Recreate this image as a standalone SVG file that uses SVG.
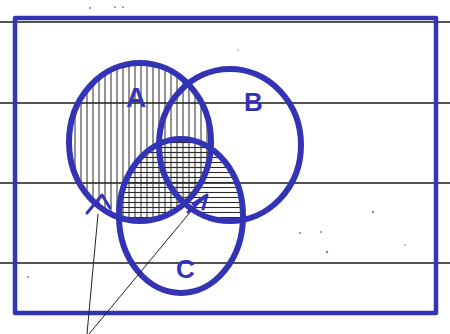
<svg xmlns="http://www.w3.org/2000/svg" width="450" height="334" viewBox="0 0 450 334">
<style>
.rule{stroke:#1a1a1a;stroke-width:1.3}
.ink{fill:none;stroke:#3333b6;stroke-linecap:round;stroke-linejoin:round}
.set{stroke-width:6}
.lbl{font-family:"Liberation Sans",Arial,sans-serif;font-weight:bold;fill:#3333b6}
.ptr{stroke:#222;stroke-width:1;fill:none}
.dot{fill:#888}
</style>
<defs>
<pattern id="vh" patternUnits="userSpaceOnUse" width="6" height="10">
<line x1="3" y1="0" x2="3" y2="10" stroke="#2a2a2a" stroke-width="1"/>
</pattern>
<pattern id="hh" patternUnits="userSpaceOnUse" width="10" height="5">
<line x1="0" y1="2.5" x2="10" y2="2.5" stroke="#2a2a2a" stroke-width="1.1"/>
</pattern>
<clipPath id="cA"><ellipse cx="140" cy="142" rx="71" ry="79"/></clipPath>
<clipPath id="cB"><ellipse cx="230" cy="145" rx="71" ry="76"/></clipPath>
<clipPath id="cC"><ellipse cx="181" cy="216" rx="62" ry="77"/></clipPath>
</defs>
<rect width="450" height="334" fill="#ffffff"/>
<g id="paper">
<line class="rule" x1="0" y1="22" x2="450" y2="22"/>
<line class="rule" x1="0" y1="103" x2="450" y2="103"/>
<line class="rule" x1="0" y1="183" x2="450" y2="183"/>
<line class="rule" x1="0" y1="263" x2="450" y2="263"/>
<circle class="dot" cx="90" cy="8" r="1"/>
<circle class="dot" cx="115" cy="7" r="1"/>
<circle class="dot" cx="123" cy="7" r="1"/>
<circle class="dot" cx="238" cy="50" r="0.8"/>
<circle class="dot" cx="373" cy="212" r="1.2"/>
<circle class="dot" cx="300" cy="233" r="1"/>
<circle class="dot" cx="321" cy="232" r="1"/>
<circle class="dot" cx="327" cy="252" r="1.2"/>
<circle class="dot" cx="28" cy="277" r="1"/>
<circle class="dot" cx="405" cy="245" r="0.8"/>
</g>
<g id="shading">
<ellipse cx="140" cy="142" rx="71" ry="79" fill="url(#vh)"/>
<g clip-path="url(#cC)">
<g clip-path="url(#cA)"><rect x="100" y="130" width="160" height="100" fill="url(#hh)"/></g>
<g clip-path="url(#cB)"><rect x="100" y="130" width="160" height="100" fill="url(#hh)"/></g>
</g>
</g>
<g id="universe">
<rect class="ink" x="15" y="18" width="421" height="295" stroke-width="4.5"/>
</g>
<g id="setA">
<ellipse class="ink set" cx="140" cy="142" rx="71" ry="79"/>
<text class="lbl" x="126" y="107" font-size="28">A</text>
</g>
<g id="setB">
<ellipse class="ink set" cx="230" cy="145" rx="71" ry="76"/>
<text class="lbl" x="244" y="111" font-size="26">B</text>
</g>
<g id="setC">
<ellipse class="ink set" cx="181" cy="216" rx="62" ry="77"/>
<text class="lbl" x="176" y="278" font-size="26">C</text>
</g>
<g id="connectors">
<line class="ptr" x1="87" y1="334" x2="98" y2="214"/>
<line class="ptr" x1="89" y1="334" x2="192" y2="210"/>
<polyline class="ink" stroke-width="3" points="87,213 102,195 110,208"/>
<line class="ink" stroke-width="3" x1="188" y1="212" x2="206" y2="196"/>
<polyline class="ink" stroke-width="3" points="193,204 207,195 203,209"/>
</g>
</svg>
